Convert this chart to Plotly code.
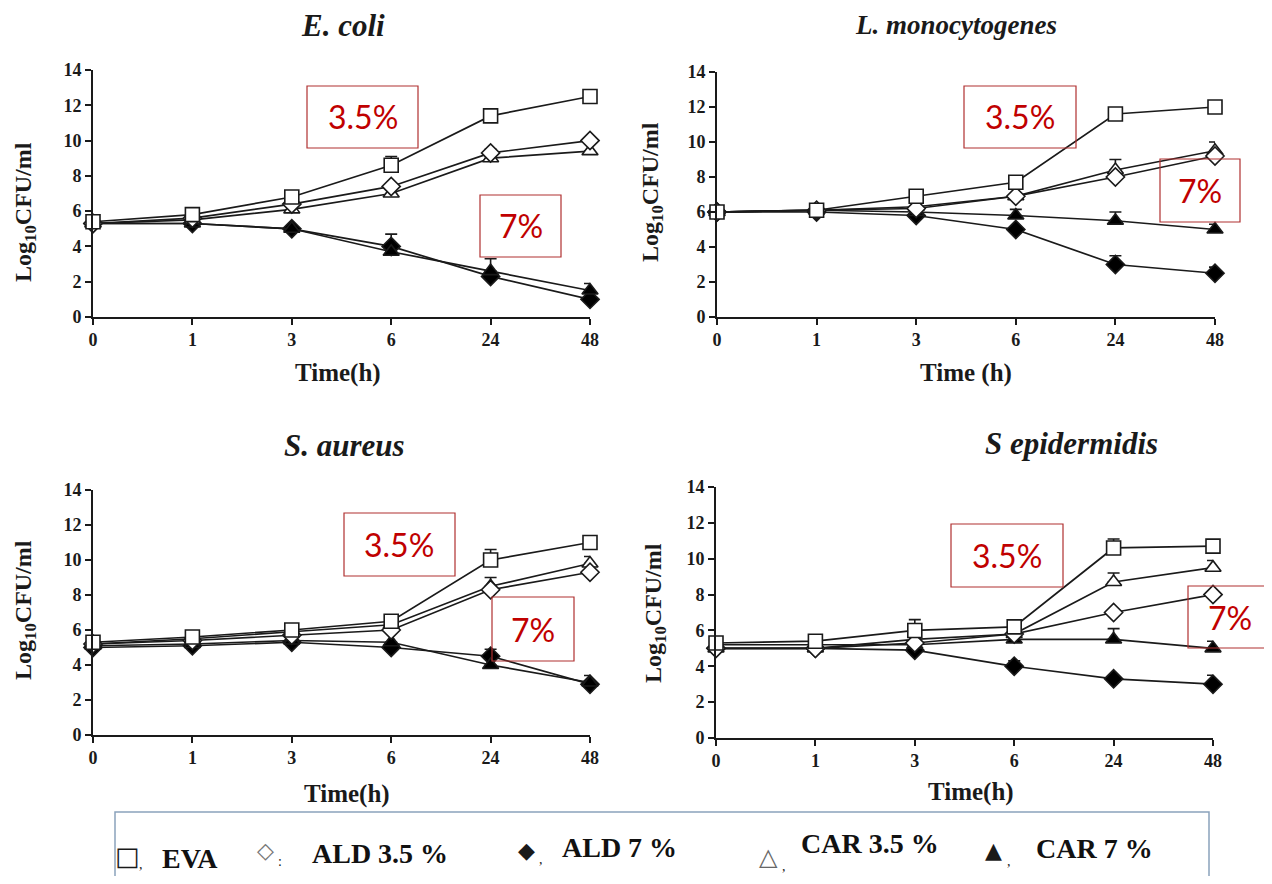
import plotly.graph_objects as go

# page body adds an 8px margin; the figure fills the rest of the 1272x884 window
OFF = 8
W, H = 1272 - 2 * OFF, 884 - 2 * OFF

# ---------------- data ----------------
time_labels = ["0", "1", "3", "6", "24", "48"]
series_names = ["EVA", "ALD 3.5 %", "ALD 7 %", "CAR 3.5 %", "CAR 7 %"]

# E. coli
ecoli_eva = [5.4, 5.8, 6.8, 8.6, 11.4, 12.5]
ecoli_ald35 = [5.3, 5.6, 6.4, 7.4, 9.3, 10.0]
ecoli_ald7 = [5.3, 5.3, 5.0, 4.0, 2.3, 1.0]
ecoli_car35 = [5.3, 5.5, 6.1, 7.0, 9.0, 9.4]
ecoli_car7 = [5.3, 5.3, 5.0, 3.7, 2.6, 1.5]
ecoli_err = [[0, 0, 0.2, 0.5, 0.2, 0.2], [0, 0, 0, 0, 0.2, 0.1], [0.2, 0, 0, 0.7, 0, 0],
             [0, 0, 0, 0, 0, 0], [0, 0, 0, 0, 0.7, 0.4]]

# L. monocytogenes
lmono_eva = [6.0, 6.1, 6.9, 7.7, 11.6, 12.0]
lmono_ald35 = [6.0, 6.1, 6.2, 6.9, 8.0, 9.2]
lmono_ald7 = [6.0, 6.0, 5.8, 5.0, 3.0, 2.5]
lmono_car35 = [6.0, 6.1, 6.3, 6.9, 8.4, 9.5]
lmono_car7 = [6.0, 6.1, 6.0, 5.8, 5.5, 5.0]
lmono_err = [[0, 0, 0.2, 0.2, 0.2, 0.2], [0, 0, 0, 0, 0, 0], [0, 0, 0, 0, 0.5, 0.35],
             [0, 0, 0, 0, 0.6, 0.5], [0, 0, 0, 0.35, 0.5, 0.3]]

# S. aureus
saur_eva = [5.3, 5.6, 6.0, 6.5, 10.0, 11.0]
saur_ald35 = [5.2, 5.4, 5.7, 6.0, 8.3, 9.3]
saur_ald7 = [5.0, 5.1, 5.3, 5.0, 4.5, 2.9]
saur_car35 = [5.2, 5.5, 5.9, 6.3, 8.5, 9.8]
saur_car7 = [5.1, 5.2, 5.4, 5.3, 4.0, 3.0]
saur_err = [[0, 0, 0, 0, 0.6, 0], [0, 0, 0, 0, 0, 0], [0, 0, 0, 0, 0.4, 0],
            [0, 0, 0, 0, 0.5, 0.4], [0, 0, 0, 0, 0, 0.4]]

# S epidermidis
sepi_eva = [5.3, 5.4, 6.0, 6.2, 10.6, 10.7]
sepi_ald35 = [5.0, 5.0, 5.3, 5.8, 7.0, 8.0]
sepi_ald7 = [5.0, 5.0, 4.9, 4.0, 3.3, 3.0]
sepi_car35 = [5.0, 5.0, 5.5, 5.8, 8.7, 9.5]
sepi_car7 = [5.2, 5.2, 5.2, 5.5, 5.5, 5.0]
sepi_err = [[0, 0, 0.6, 0, 0.5, 0], [0, 0, 0, 0, 0, 0], [0, 0, 0, 0.3, 0, 0.5],
            [0, 0, 0, 0, 0.5, 0.4], [0, 0, 0, 0, 0.6, 0.4]]

organisms = ["E. coli", "L. monocytogenes", "S. aureus", "S epidermidis"]
panel_values = [
    [ecoli_eva, ecoli_ald35, ecoli_ald7, ecoli_car35, ecoli_car7],
    [lmono_eva, lmono_ald35, lmono_ald7, lmono_car35, lmono_car7],
    [saur_eva, saur_ald35, saur_ald7, saur_car35, saur_car7],
    [sepi_eva, sepi_ald35, sepi_ald7, sepi_car35, sepi_car7],
]
panel_errors = [ecoli_err, lmono_err, saur_err, sepi_err]
y_ticks = [0, 2, 4, 6, 8, 10, 12, 14]

# ---------------- styling ----------------
def px(x):
    return (x - OFF) / W

def py(y):
    return 1 - (y - OFF) / H

# axis pixel boxes in window coords: (x0, x1, ytop, ybottom)
boxes = [(93, 590, 70, 317), (717, 1215, 72, 317), (93, 590, 490, 735), (716, 1213, 487, 738)]

marker_styles = {
    "EVA": dict(symbol="square", color="white", size=14),
    "ALD 3.5 %": dict(symbol="diamond", color="white", size=14),
    "ALD 7 %": dict(symbol="diamond", color="black", size=14),
    "CAR 3.5 %": dict(symbol="triangle-up", color="white", size=14),
    "CAR 7 %": dict(symbol="triangle-up", color="black", size=14),
}
draw_order = ["ALD 7 %", "CAR 7 %", "CAR 3.5 %", "ALD 3.5 %", "EVA"]

serif = "Liberation Serif"
ink = "#1a1a1a"
fig = go.Figure()

for i, (vals, errs) in enumerate(zip(panel_values, panel_errors)):
    xa = "x" if i == 0 else f"x{i+1}"
    ya = "y" if i == 0 else f"y{i+1}"
    for name in draw_order:
        k = series_names.index(name)
        ms = marker_styles[name]
        fig.add_trace(go.Scatter(
            x=time_labels, y=vals[k], xaxis=xa, yaxis=ya, name=name,
            mode="lines+markers", showlegend=False, cliponaxis=False,
            line=dict(color=ink, width=1.7),
            marker=dict(symbol=ms["symbol"], size=ms["size"], color=ms["color"],
                        line=dict(color=ink, width=1.6)),
            error_y=dict(type="data", symmetric=False, array=errs[k],
                         arrayminus=[0] * len(errs[k]), color=ink,
                         thickness=1.6, width=6),
        ))

layout = dict(width=W, height=H, margin=dict(l=0, r=0, t=0, b=0, pad=0, autoexpand=False),
              paper_bgcolor="white", plot_bgcolor="white", showlegend=False)
tickfont = dict(family=serif, size=18, color=ink, weight="bold")
for i, (x0, x1, yt, yb) in enumerate(boxes):
    sx = "" if i == 0 else str(i + 1)
    layout["xaxis" + sx] = dict(
        domain=[px(x0), px(x1)], anchor="y" + sx, type="category",
        categoryorder="array", categoryarray=time_labels, range=[0, 5],
        showline=True, linecolor=ink, linewidth=1.6, showgrid=False, automargin=False,
        zeroline=False, ticks="outside", ticklen=6, tickwidth=1.6, tickcolor=ink,
        tickfont=tickfont,
    )
    layout["yaxis" + sx] = dict(
        domain=[py(yb), py(yt)], anchor="x" + sx, range=[0, 14], automargin=False,
        tickvals=y_ticks, showline=True, linecolor=ink, linewidth=1.6,
        showgrid=False, zeroline=False, ticks="outside", ticklen=6, tickwidth=1.6,
        tickcolor=ink, tickfont=tickfont,
    )
fig.update_layout(**layout)

annotations = []
shapes = []

# subplot titles
title_pos = [(343, 25, 31), (956, 25, 27), (344, 445, 31), (1071, 443, 31)]
for name, (tx, ty, fs) in zip(organisms, title_pos):
    annotations.append(dict(text=f"<b><i>{name}</i></b>", x=px(tx), y=py(ty), xref="paper",
                            yref="paper", showarrow=False, xanchor="center", yanchor="middle",
                            font=dict(family=serif, size=fs, color=ink)))

# axis titles
xt_pos = [(338, 373, "Time(h)"), (966, 373, "Time (h)"), (347, 794, "Time(h)"), (971, 792, "Time(h)")]
for tx, ty, t in xt_pos:
    annotations.append(dict(text=f"<b>{t}</b>", x=px(tx), y=py(ty), xref="paper", yref="paper",
                            showarrow=False, xanchor="center", yanchor="middle",
                            font=dict(family=serif, size=25, color=ink)))
yt_pos = [(25, 212), (652, 192), (25, 610), (655, 613)]
for tx, ty in yt_pos:
    annotations.append(dict(text="<b>Log<sub>10</sub>CFU/ml</b>", x=px(tx), y=py(ty),
                            xref="paper", yref="paper", showarrow=False, textangle=-90,
                            xanchor="center", yanchor="middle",
                            font=dict(family=serif, size=24, color=ink)))

# red concentration boxes
red_boxes = [
    (307, 418, 86, 148, "3.5%"), (480, 561, 195, 257, "7%"),
    (964, 1076, 86, 148, "3.5%"), (1160, 1240, 159, 222, "7%"),
    (344, 455, 513, 576, "3.5%"), (492, 574, 597, 661, "7%"),
    (951, 1063, 524, 587, "3.5%"), (1188, 1271, 586, 648, "7%"),
]
for x0, x1, y0, y1, t in red_boxes:
    shapes.append(dict(type="rect", xref="paper", yref="paper", x0=px(x0), x1=px(x1),
                       y0=py(y1), y1=py(y0), line=dict(color="#B03030", width=1.2),
                       fillcolor="rgba(255,255,255,0)", layer="above"))
    annotations.append(dict(text=t, x=px((x0 + x1) / 2), y=py((y0 + y1) / 2), xref="paper",
                            yref="paper", showarrow=False, xanchor="center", yanchor="middle",
                            font=dict(family="Lato", size=32, color="#C00000")))

# legend box
shapes.append(dict(type="rect", xref="paper", yref="paper", x0=px(115), x1=px(1209),
                   y0=py(900), y1=py(812), line=dict(color="#8AA2BC", width=1.5),
                   fillcolor="rgba(0,0,0,0)"))
legend_syms = [("□", 127, 856, ink, 26), ("◇", 265, 850, "#777777", 22),
               ("◆", 526, 850, ink, 22), ("△", 768, 857, "#666666", 24),
               ("▲", 993, 850, ink, 22)]
commas = [(141, 864, ","), (280, 861, ":"), (541, 859, ","), (784, 866, ","), (1009, 861, ",")]
legend_txt = [(190, 858), (380, 853), (619, 847), (870, 843), (1094, 848)]
for s, sx_, sy_, c, fs in legend_syms:
    annotations.append(dict(text=s, x=px(sx_), y=py(sy_), xref="paper", yref="paper",
                            showarrow=False, xanchor="center", yanchor="middle",
                            font=dict(family="DejaVu Sans", size=fs, color=c)))
for cx, cy, c in commas:
    annotations.append(dict(text=c, x=px(cx), y=py(cy), xref="paper", yref="paper",
                            showarrow=False, xanchor="center", yanchor="middle",
                            font=dict(family=serif, size=14, color=ink)))
for name, (lx, ly) in zip(series_names, legend_txt):
    annotations.append(dict(text=f"<b>{name}</b>", x=px(lx), y=py(ly), xref="paper",
                            yref="paper", showarrow=False, xanchor="center", yanchor="middle",
                            font=dict(family=serif, size=28, color="#111111")))

fig.update_layout(annotations=annotations, shapes=shapes)
fig.write_html("out.html")
